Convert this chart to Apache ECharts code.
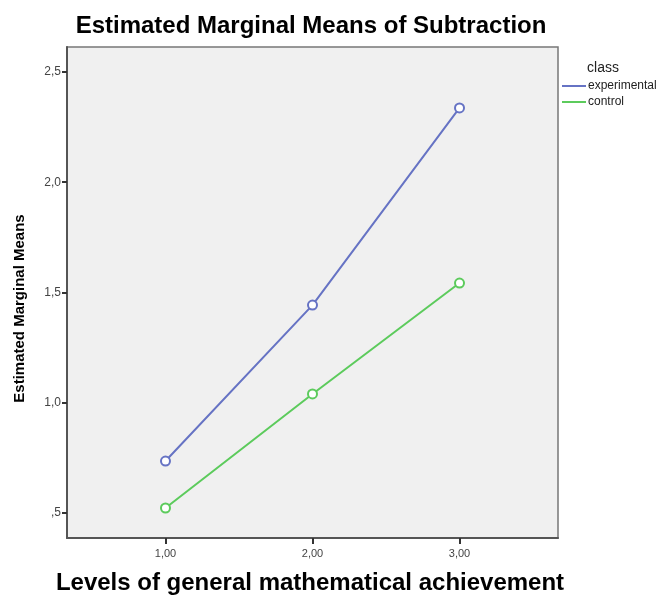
<!DOCTYPE html>
<html>
<head>
<meta charset="utf-8">
<script src="https://cdn.jsdelivr.net/npm/echarts@6/dist/echarts.min.js"></script>
<style>
  html, body { margin: 0; padding: 0; background: #fff; }
  #chart { width: 664px; height: 597px; }
</style>
</head>
<body>
<div id="chart"></div>
<script>
var levels = [1, 2, 3];
var experimental = [0.736, 1.443, 2.337];
var control = [0.523, 1.040, 1.543];
var yTicks = [0.5, 1.0, 1.5, 2.0, 2.5];

function pairs(vals) {
  var res = [];
  for (var i = 0; i < levels.length; i++) res.push([levels[i], vals[i]]);
  return res;
}

// SPSS style numbers: comma decimal, no leading zero
function fmt(v, digits) {
  var s = v.toFixed(digits).replace('.', ',');
  if (s.indexOf('0,') === 0) s = s.slice(1);
  return s;
}

var myChart = echarts.init(document.getElementById('chart'));

myChart.setOption({
  animation: false,
  title: [{
    text: 'Estimated Marginal Means of Subtraction',
    left: 306, top: 9, textAlign: 'center',
    textStyle: { fontFamily: 'Arial, Liberation Sans', fontWeight: 'bold', fontSize: 24, color: '#000' }
  }, {
    text: 'class',
    left: 598, top: 56, textAlign: 'center',
    textStyle: { fontFamily: 'Arial, Liberation Sans', fontWeight: 'normal', fontSize: 14, color: '#222' }
  }],
  legend: {
    orient: 'vertical',
    left: 562, top: 80, padding: 0,
    itemWidth: 24, itemHeight: 2, itemGap: 4,
    icon: 'rect',
    textStyle: { fontFamily: 'Arial, Liberation Sans', fontSize: 12, color: '#222', padding: [0, 0, 0, -3] },
    data: ['experimental', 'control']
  },
  grid: {
    left: 67, right: 106, top: 47, bottom: 59,
    outerBoundsMode: 'none',
    show: true, backgroundColor: '#f0f0f0', borderColor: '#777', borderWidth: 1.5
  },
  xAxis: {
    type: 'value', min: 0.33, max: 3.67,
    name: 'Levels of general mathematical achievement',
    nameLocation: 'middle', nameGap: 33,
    nameTextStyle: { fontFamily: 'Arial, Liberation Sans', fontWeight: 'bold', fontSize: 24, color: '#000', padding: [0, 5, 0, 0] },
    axisLine: { lineStyle: { color: '#555', width: 2 } },
    axisTick: { show: true, length: 6, lineStyle: { color: '#333', width: 2 }, customValues: levels },
    axisLabel: { customValues: levels, color: '#444', fontFamily: 'Arial, Liberation Sans', fontSize: 11, margin: 10,
      formatter: function (v) { return fmt(v, 2); } },
    splitLine: { show: false }
  },
  yAxis: {
    type: 'value', min: 0.387, max: 2.613,
    name: 'Estimated Marginal Means',
    nameLocation: 'middle', nameGap: 40,
    nameTextStyle: { fontFamily: 'Arial, Liberation Sans', fontWeight: 'bold', fontSize: 15, color: '#000', padding: [0, 32, 0, 0] },
    axisLine: { show: true, lineStyle: { color: '#555', width: 2 } },
    axisTick: { show: true, length: 5, lineStyle: { color: '#333', width: 2 }, customValues: yTicks },
    axisLabel: { customValues: yTicks, color: '#444', fontFamily: 'Arial, Liberation Sans', fontSize: 12, margin: 6,
      formatter: function (v) { return fmt(v, 1); } },
    splitLine: { show: false }
  },
  series: [{
    name: 'experimental',
    type: 'line',
    data: pairs(experimental),
    symbol: 'emptyCircle', symbolSize: 9,
    color: '#6673c4',
    lineStyle: { width: 2, color: '#6673c4' },
    itemStyle: { color: '#6673c4', borderWidth: 1.5 }
  }, {
    name: 'control',
    type: 'line',
    data: pairs(control),
    symbol: 'emptyCircle', symbolSize: 9,
    color: '#5ccb5c',
    lineStyle: { width: 2, color: '#5ccb5c' },
    itemStyle: { color: '#5ccb5c', borderWidth: 1.5 }
  }]
});
</script>
</body>
</html>
